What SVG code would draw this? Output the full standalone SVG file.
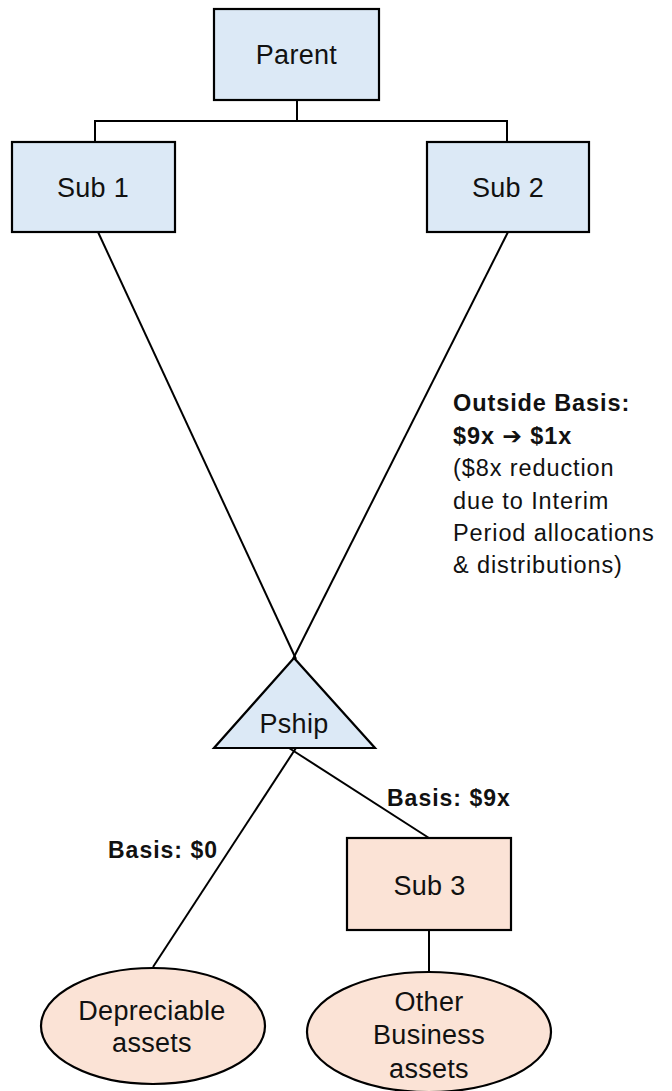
<svg xmlns="http://www.w3.org/2000/svg" width="672" height="1091" viewBox="0 0 672 1091">
  <style>
    .box { fill: #DCE9F6; stroke: #000; stroke-width: 2.2; }
    .peach { fill: #FBE3D6; stroke: #000; stroke-width: 2.2; }
    .lbl { font-family: "Liberation Sans", Arial, sans-serif; font-size: 27px; letter-spacing: 0.3px; fill: #111; text-anchor: middle; }
    .note { font-family: "Liberation Sans", Arial, sans-serif; font-size: 23.5px; letter-spacing: 0.9px; fill: #111; }
    .tag { font-family: "Liberation Sans", Arial, sans-serif; font-size: 23px; letter-spacing: 1px; font-weight: bold; fill: #111; }
    .b { font-weight: bold; }
    .arrow { font-family: "DejaVu Sans", sans-serif; font-weight: bold; }
    .wire { stroke: #000; stroke-width: 2; fill: none; }
  </style>

  <g id="connectors">
    <polyline class="wire" points="95,142 95,121 507,121 507,142" stroke-width="3"/>
    <line class="wire" x1="297" y1="100" x2="297" y2="121" stroke-width="3"/>
    <line class="wire" x1="98" y1="232" x2="296" y2="659"/>
    <line class="wire" x1="508" y1="232" x2="293" y2="659"/>
    <line class="wire" x1="296" y1="748" x2="153" y2="967"/>
    <line class="wire" x1="289" y1="748" x2="429" y2="838"/>
    <line class="wire" x1="429" y1="930" x2="429" y2="972"/>
  </g>

  <g id="parent">
    <rect class="box" x="214" y="9" width="165" height="91"/>
    <text class="lbl" x="296.5" y="64">Parent</text>
  </g>

  <g id="sub1">
    <rect class="box" x="12" y="142" width="163" height="90"/>
    <text class="lbl" x="93" y="197">Sub 1</text>
  </g>

  <g id="sub2">
    <rect class="box" x="427" y="142" width="162" height="90"/>
    <text class="lbl" x="508" y="197">Sub 2</text>
  </g>

  <g id="pship">
    <polygon class="box" points="294,658 214,748 375,748"/>
    <text class="lbl" x="294" y="733">Pship</text>
  </g>

  <g id="sub3">
    <rect class="peach" x="347" y="838" width="164" height="92"/>
    <text class="lbl" x="429.5" y="895">Sub 3</text>
  </g>

  <g id="depreciable">
    <ellipse class="peach" cx="153" cy="1026" rx="112" ry="58"/>
    <text class="lbl" x="152" y="1020">Depreciable</text>
    <text class="lbl" x="152" y="1052">assets</text>
  </g>

  <g id="other-assets">
    <ellipse class="peach" cx="429" cy="1032" rx="122" ry="60"/>
    <text class="lbl" x="429" y="1011">Other</text>
    <text class="lbl" x="429" y="1044">Business</text>
    <text class="lbl" x="429" y="1078">assets</text>
  </g>

  <g id="labels">
    <text class="note b" x="453" y="411">Outside Basis:</text>
    <text class="note b" x="453" y="444">$9x <tspan class="arrow">➔</tspan> $1x</text>
    <text class="note" x="453" y="476">($8x reduction</text>
    <text class="note" x="453" y="509">due to Interim</text>
    <text class="note" x="453" y="541">Period allocations</text>
    <text class="note" x="453" y="573">&amp; distributions)</text>
    <text class="tag" x="108" y="858">Basis: $0</text>
    <text class="tag" x="387" y="806">Basis: $9x</text>
  </g>
</svg>
